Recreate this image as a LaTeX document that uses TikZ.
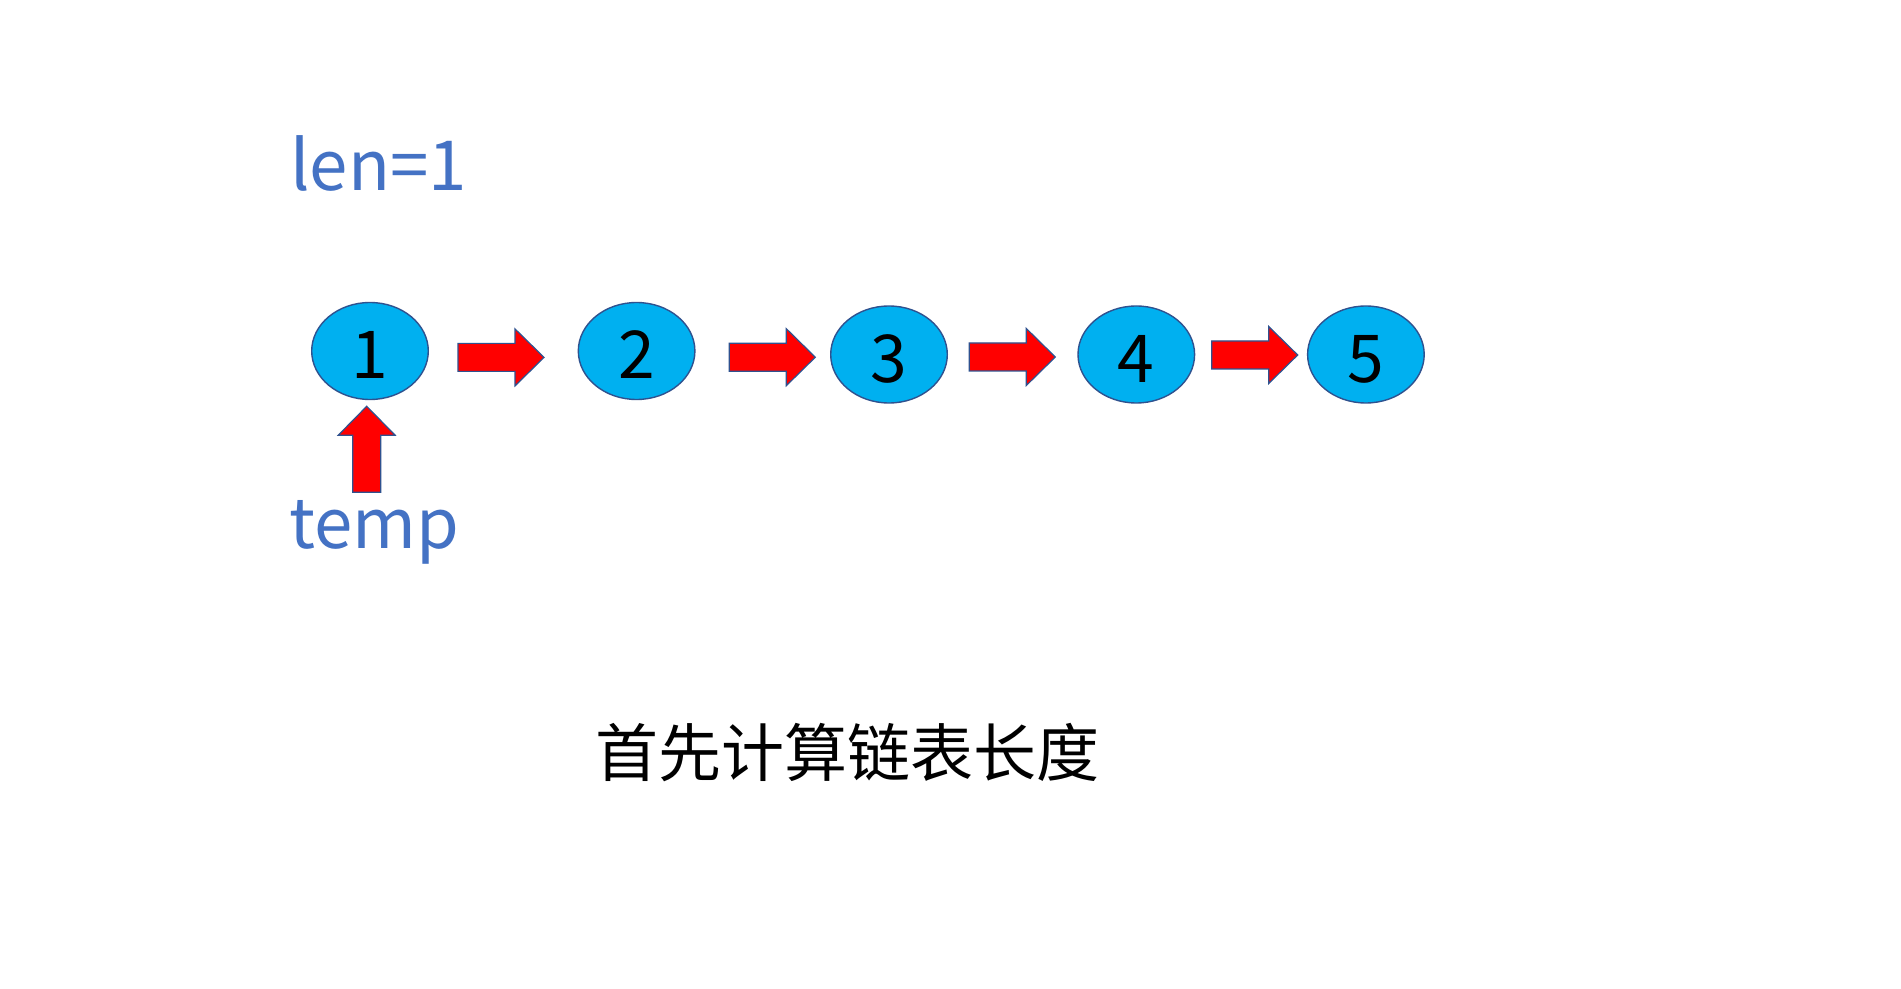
\documentclass[tikz,border=0pt]{standalone}
\usepackage{fontspec}
\setmainfont{Noto Sans CJK SC}
\usepackage{tikz}
\usetikzlibrary{positioning,shapes.geometric}

\definecolor{nodeblue}{HTML}{00B0F0}
\definecolor{edgeblue}{HTML}{2F528F}
\definecolor{textblue}{HTML}{4472C4}

\begin{document}
\begin{tikzpicture}[
  x=0.5pt, y=-0.5pt,
  elem/.style={draw=edgeblue, line width=0.7pt, fill=nodeblue, ellipse, minimum width=58.3pt, minimum height=48.5pt, inner sep=0pt, outer sep=0pt, text height=28pt, text depth=0pt, font=\fontsize{33}{33}\selectfont},
  note/.style={text=textblue, inner sep=0pt, anchor=base west, font=\fontsize{34.5}{34.5}\selectfont},
  caption/.style={inner sep=0pt, anchor=base, font=\fontsize{31.5}{31.5}\selectfont},
  blockarrow/.pic={\draw[edgeblue, line width=0.6pt, fill=red] (0,-14) -- (57,-14) -- (57,-28.5) -- (86,0) -- (57,28.5) -- (57,14) -- (0,14) -- cycle;}
]
\useasboundingbox[fill=white] (0,0) rectangle (1901,989);

\node[note] (len) at (290,191) {len=1};

\node[elem] (n1) at (370,351) {1};
\node[elem, right=75pt of n1] (n2) {2};
\node[elem, right=67.9pt of n2, yshift=-1.75pt] (n3) {3};
\node[elem, right=65.35pt of n3] (n4) {4};
\node[elem, right=56.5pt of n4] (n5) {5};

\pic at (458,357.4) {blockarrow};
\pic at (729.3,357.2) {blockarrow};
\pic at (969.3,357) {blockarrow};
\pic at (1211.7,355) {blockarrow};
\pic[rotate=90] at (366.7,492.3) {blockarrow};

\node[note] (temp) at (289,548) {temp};

\node[caption] (title) at (847,776) {首先计算链表长度};
\end{tikzpicture}
\end{document}
